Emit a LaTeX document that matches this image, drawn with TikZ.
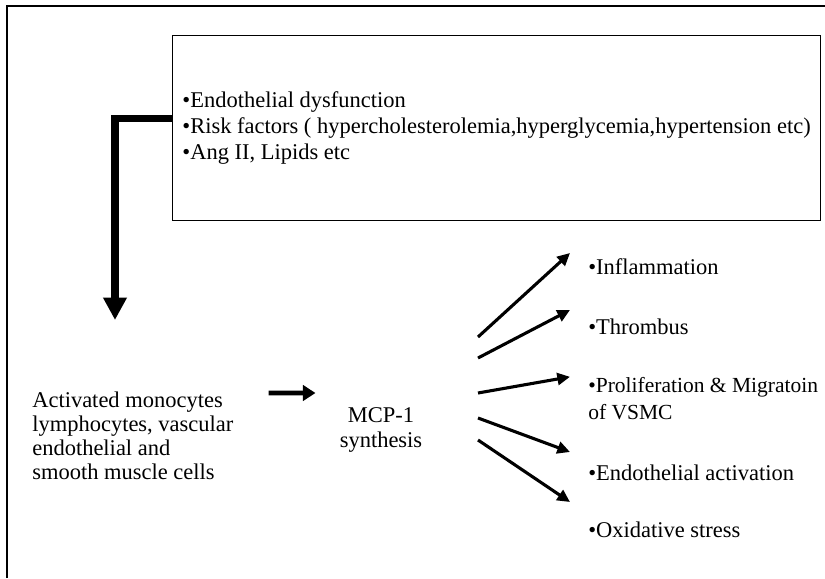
\documentclass[tikz,border=0pt]{standalone}
\usepackage{fontspec}
\setmainfont{Liberation Serif}
\usetikzlibrary{arrows.meta,positioning}

\begin{document}
\begin{tikzpicture}[
    txt/.style={font=\fontsize{16}{17}\selectfont, align=left, inner xsep=0pt},
    fan/.style={line width=2.2pt, -{Triangle[length=9pt,width=8.5pt]}},
    bigarrow/.style={line width=5.5pt, -{Triangle[length=16pt,width=16pt]}},
    midarrow/.style={line width=3.5pt, -{Triangle[length=9pt,width=11pt]}},
]
\useasboundingbox (0,0) rectangle (20.625,-14.45);
\draw [line width=1.4pt] (0.175,-14.45) -- (0.175,-0.15) -- (20.625,-0.15);

\node [draw, line width=0.6pt, anchor=north west, minimum width=16.025cm, minimum height=4.625cm,
       inner xsep=0.25cm, font=\fontsize{16}{18.4}\selectfont, align=left] (causes) at (4.3,-0.875)
      {\textbullet Endothelial dysfunction\\
       \textbullet Risk factors ( hypercholesterolemia,hyperglycemia,hypertension etc)\\
       \textbullet Ang II, Lipids etc};

\coordinate (drop) at (2.875,-8.0);
\draw [bigarrow] ([yshift=0.2375cm]causes.west) -| (drop);

\node [txt, anchor=west] (cells) at (0.8,-10.9) {Activated monocytes\\lymphocytes, vascular\\endothelial and\\smooth muscle cells};
\node [txt, align=center, font=\fontsize{16}{17.7}\selectfont] (mcp) at (9.525,-10.75) {MCP-1\\synthesis};

\draw [midarrow] ([xshift=0.875cm,yshift=1.075cm]cells.east) -- ([xshift=-0.6cm,yshift=0.925cm]mcp.west);

\node [txt, anchor=west] (inflam) at (14.7,-6.675) {\textbullet Inflammation};
\node [txt, anchor=west] (thromb) at (14.7,-8.175) {\textbullet Thrombus};
\node [txt, anchor=west, font=\fontsize{15.3}{19}\selectfont] (prolif) at (14.7,-9.96) {\textbullet Proliferation \& Migratoin\\of VSMC};
\node [txt, anchor=west] (endo) at (14.7,-11.825) {\textbullet Endothelial activation};
\node [txt, anchor=west] (oxid) at (14.7,-13.25) {\textbullet Oxidative stress};

\foreach \lab/\ys/\ye in {inflam/2.325/0.35, thromb/1.8/0.425, prolif/0.925/0.54, endo/0.3/0.525, oxid/-0.25/0.7}
  \draw [fan] ([xshift=2.425cm,yshift=\ys cm]mcp.center) -- ([xshift=-0.45cm,yshift=\ye cm]\lab.west);

\end{tikzpicture}
\end{document}
